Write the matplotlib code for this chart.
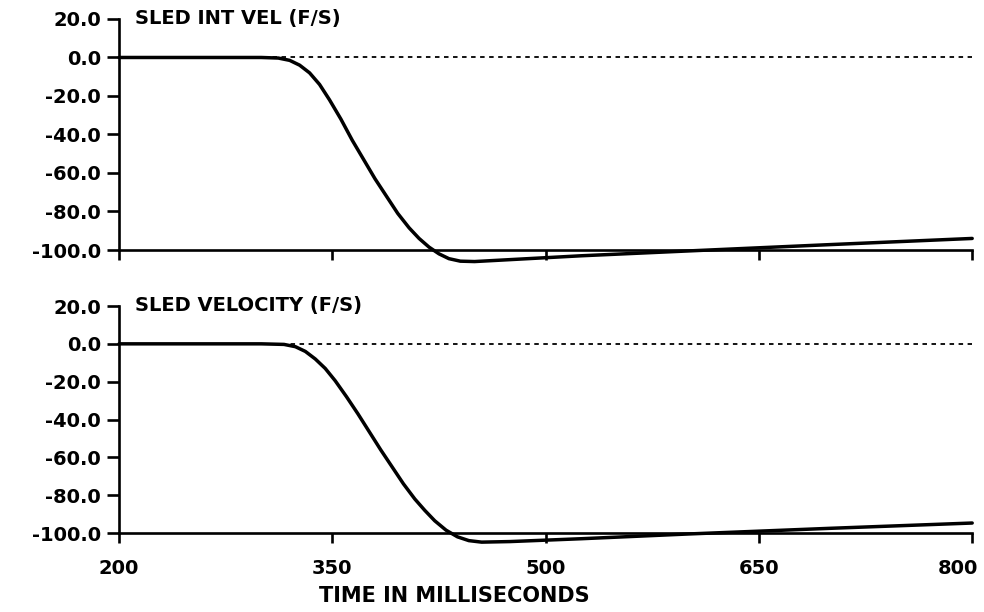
import matplotlib
matplotlib.use("Agg")
import matplotlib.pyplot as plt
import matplotlib.transforms as mtransforms

# time axis (ms) and the two velocity traces (ft/s)
t_int = [200, 300, 312, 320, 327, 334, 341, 348, 356, 364, 372, 380, 388,
         396, 404, 411, 418, 425, 432, 440, 450, 475, 525, 600, 700, 800]
v_int = [0, 0, -0.3, -1.5, -4, -8, -14, -22, -32, -43, -53, -63, -72,
         -81, -88.5, -94, -98.5, -102, -104.5, -105.8, -106, -105, -103,
         -100.5, -97.2, -94]

t_vel = [200, 300, 316, 324, 331, 338, 345, 352, 360, 368, 376, 384, 392,
         400, 408, 415, 422, 430, 438, 446, 455, 475, 525, 600, 700, 800]
v_vel = [0, 0, -0.3, -1.5, -4, -8, -13, -19.5, -28, -37, -46.5, -56, -65,
         -74, -82, -88, -93.5, -98.5, -102, -104, -104.8, -104.5, -103,
         -100.5, -97.5, -94.7]

titles = ["SLED INT VEL (F/S)", "SLED VELOCITY (F/S)"]
yticks = [20, 0, -20, -40, -60, -80, -100]
xticks = [200, 350, 500, 650, 800]

plt.rcParams['font.family'] = ['DejaVu Sans']
plt.rcParams['font.weight'] = 'bold'

fig = plt.figure(figsize=(9.84, 6.12), dpi=100)
ax1 = fig.add_axes([0.121, 0.5915, 0.867, 0.3775])
ax2 = fig.add_axes([0.121, 0.129, 0.867, 0.371])

for ax, t, v, title in [(ax1, t_int, v_int, titles[0]), (ax2, t_vel, v_vel, titles[1])]:
    ax.axhline(0, color='black', lw=1.3, ls=(0, (2.5, 2.5)), zorder=1)
    ax.plot(t, v, color='black', lw=2.5, solid_capstyle='round',
            solid_joinstyle='round', zorder=3, clip_on=False)
    ax.set_xlim(200, 800)
    ax.set_ylim(-100, 20)
    for s in ['top', 'right']:
        ax.spines[s].set_visible(False)
    for s in ['left', 'bottom']:
        ax.spines[s].set_linewidth(1.9)
        ax.spines[s].set_zorder(2)
    ax.set_yticks(yticks)
    ax.set_yticklabels([f"{y:.1f}" for y in yticks], fontsize=14, fontweight='bold')
    ax.set_xticks(xticks)
    ax.tick_params(axis='y', direction='out', length=9, width=1.9, pad=4)
    ax.tick_params(axis='x', direction='out', length=7, width=1.9, pad=12)
    ax.text(0.019, 1.0, title, transform=ax.transAxes, fontsize=14,
            fontweight='bold', va='center', ha='left')

ax1.set_xticklabels([])
ax2.set_xticklabels([str(x) for x in xticks], fontsize=14, fontweight='bold')
# last label sits a little left of its tick, as in the original
last = ax2.get_xticklabels()[-1]
last.set_transform(last.get_transform() +
                   mtransforms.ScaledTranslation(-10 / 72, 0, fig.dpi_scale_trans))
ax2.set_xlabel("TIME IN MILLISECONDS", fontsize=15, fontweight='bold', labelpad=8)
ax2.xaxis.set_label_coords(0.393, -0.235)

fig.savefig("out.png", dpi=100)
